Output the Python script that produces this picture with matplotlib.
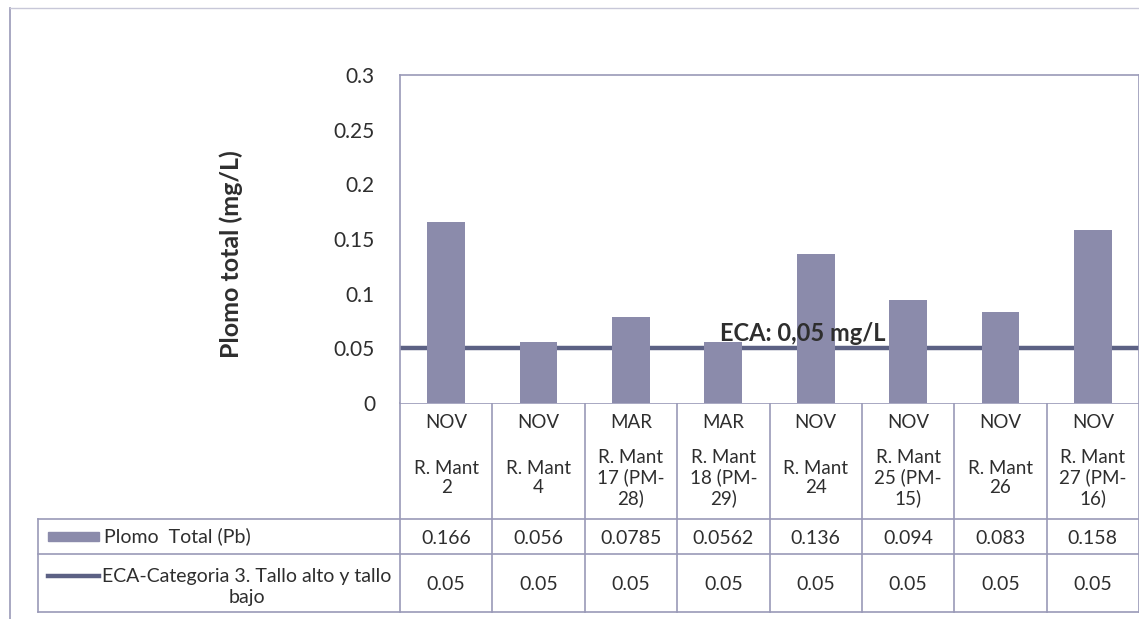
import numpy as np
import matplotlib
matplotlib.use("Agg")
import matplotlib.pyplot as plt
from matplotlib.patches import Rectangle
from matplotlib.lines import Line2D

plt.rcParams['font.family'] = ['Lato', 'DejaVu Sans']

meses = ["NOV", "NOV", "MAR", "MAR", "NOV", "NOV", "NOV", "NOV"]
puntos = ["R. Mant\n2", "R. Mant\n4", "R. Mant\n17 (PM-\n28)", "R. Mant\n18 (PM-\n29)",
          "R. Mant\n24", "R. Mant\n25 (PM-\n15)", "R. Mant\n26", "R. Mant\n27 (PM-\n16)"]
plomo = [0.166, 0.056, 0.0785, 0.0562, 0.136, 0.094, 0.083, 0.158]
plomo_txt = ["0.166", "0.056", "0.0785", "0.0562", "0.136", "0.094", "0.083", "0.158"]
eca = [0.05, 0.05, 0.05, 0.05, 0.05, 0.05, 0.05, 0.05]
yticks = [0, 0.05, 0.1, 0.15, 0.2, 0.25, 0.3]
yticklabels = ["0", "0.05", "0.1", "0.15", "0.2", "0.25", "0.3"]

W, H = 1139, 619
bar_col = "#8b8bab"
line_col = "#5c6184"
grid_col = "#9a9ab8"
txt_col = "#2e2e2e"

fig = plt.figure(figsize=(W / 100, H / 100), dpi=100)

# overlay for table / frame, pixel coords
ov = fig.add_axes([0, 0, 1, 1])
ov.set_xlim(0, W)
ov.set_ylim(H, 0)
ov.axis("off")

x0, x1 = 400, 1139
y_top, y_bot = 75, 403
ax = fig.add_axes([x0 / W, 1 - y_bot / H, (x1 - x0) / W, (y_bot - y_top) / H])
n = len(plomo)
x = np.arange(n)
ax.bar(x, plomo, width=0.41, color=bar_col, zorder=3)
ax.plot([-0.5, n - 0.5], [eca[0], eca[-1]], color=line_col, lw=3.2, zorder=2)
ax.set_xlim(-0.5, n - 0.5)
ax.set_ylim(0, 0.3)
ax.set_yticks(yticks)
ax.set_yticklabels(yticklabels, fontsize=15, color=txt_col)
ax.tick_params(axis="y", length=0, pad=18)
ax.set_xticks([])
for s in ["left", "top", "right"]:
    ax.spines[s].set_color(grid_col)
    ax.spines[s].set_linewidth(1.2)
ax.spines["bottom"].set_visible(False)
ax.set_ylabel("Plomo total (mg/L)", fontsize=18, fontweight="bold", color=txt_col)
ax.yaxis.set_label_coords((243 - x0) / (x1 - x0), 0.455)
ax.text(2.96, 0.064, "ECA: 0,05 mg/L", fontsize=17, fontweight="bold", color=txt_col,
        va="center", ha="left", zorder=5)

# outer chart border
ov.add_line(Line2D([10, 10], [8, H], color=grid_col, lw=1.2))
ov.add_line(Line2D([10, W], [8, 8], color="#c8c8d8", lw=1.0))

# data table
cw = (x1 - x0) / n
r1, r2, r3 = 519, 554, 612
lx = 38
for yy, xa in [(y_bot, x0), (r1, lx), (r2, lx), (r3, lx)]:
    ov.add_line(Line2D([xa, x1], [yy, yy], color=grid_col, lw=1.2))
ov.add_line(Line2D([lx, lx], [r1, r3], color=grid_col, lw=1.2))
for i in range(n + 1):
    ov.add_line(Line2D([x0 + i * cw, x0 + i * cw], [y_bot, r3], color=grid_col, lw=1.2))

for i in range(n):
    cx = x0 + (i + 0.5) * cw
    ov.text(cx, 423, meses[i], ha="center", va="center", fontsize=13.5, color=txt_col)
    ov.text(cx, 478, puntos[i], ha="center", va="center", fontsize=13.5, color=txt_col,
            linespacing=1.18)
    ov.text(cx, 538, plomo_txt[i], ha="center", va="center", fontsize=14, color=txt_col)
    ov.text(cx, 584, f"{eca[i]:.2f}", ha="center", va="center", fontsize=14, color=txt_col)

ov.add_patch(Rectangle((48, 532), 51, 9, color=bar_col))
ov.text(104, 536, "Plomo  Total (Pb)", ha="left", va="center", fontsize=14, color=txt_col)
ov.add_line(Line2D([48, 99], [576, 576], color=line_col, lw=3.2))
ov.text(247, 587, "ECA-Categoria 3. Tallo alto y tallo\nbajo", ha="center", va="center",
        fontsize=14, color=txt_col, linespacing=1.25)

fig.savefig("out.png", dpi=100)
